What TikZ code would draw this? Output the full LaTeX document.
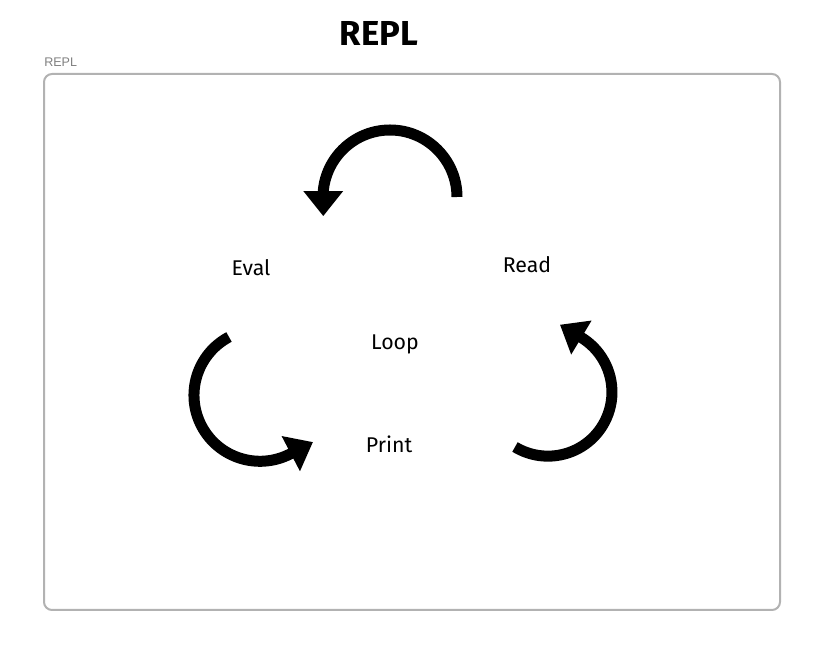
\documentclass[tikz,border=0pt]{standalone}
\usepackage{fontspec}
\setmainfont{Fira Sans}
\newfontfamily\smallsans{Liberation Sans}
\usetikzlibrary{arrows.meta}
\definecolor{framegray}{RGB}{178,178,178}
\definecolor{labelgray}{RGB}{128,128,128}
\begin{document}
\begin{tikzpicture}[x=0.75pt,y=-0.75pt,
    word/.style={anchor=base,inner sep=0pt,font=\fontsize{16}{19}\selectfont},
    cyclearrow/.style={line width=8.25pt,-{Triangle[length=18.75pt,width=28.5pt]}}]
      \useasboundingbox (0,0) rectangle (833,655);
      \draw[framegray,line width=1.5pt,rounded corners=6pt] (44,74) rectangle (780,610);
      \draw
        (379,46) node[anchor=base,inner sep=0pt,font=\fontsize{26}{31}\selectfont\bfseries] (title){REPL}
        (44,67) node[anchor=base west,inner sep=0pt,text=labelgray,font=\smallsans\fontsize{9.4}{11}\selectfont] (framelabel){REPL}
        (527,273) node[word] (read){Read}
        (251,276) node[word] (eval){Eval}
        (389,453) node[word] (print){Print}
        (395,350) node[word] (loop){Loop};
      \coordinate (readend) at (457,197);
      \coordinate (evalend) at (229,337);
      \coordinate (printend) at (515,447);
      \begin{scope}[cyclearrow]
        \draw (readend) arc[start angle=0,end angle=-175,radius=67] -- ++(0,25);
        \draw (evalend) arc[start angle=-118,end angle=-297,radius=66] -- ++(23,-12);
        \draw (printend) arc[start angle=121,end angle=-60,radius=64] -- ++(-20,-12);
      \end{scope}
    \end{tikzpicture}
\end{document}
